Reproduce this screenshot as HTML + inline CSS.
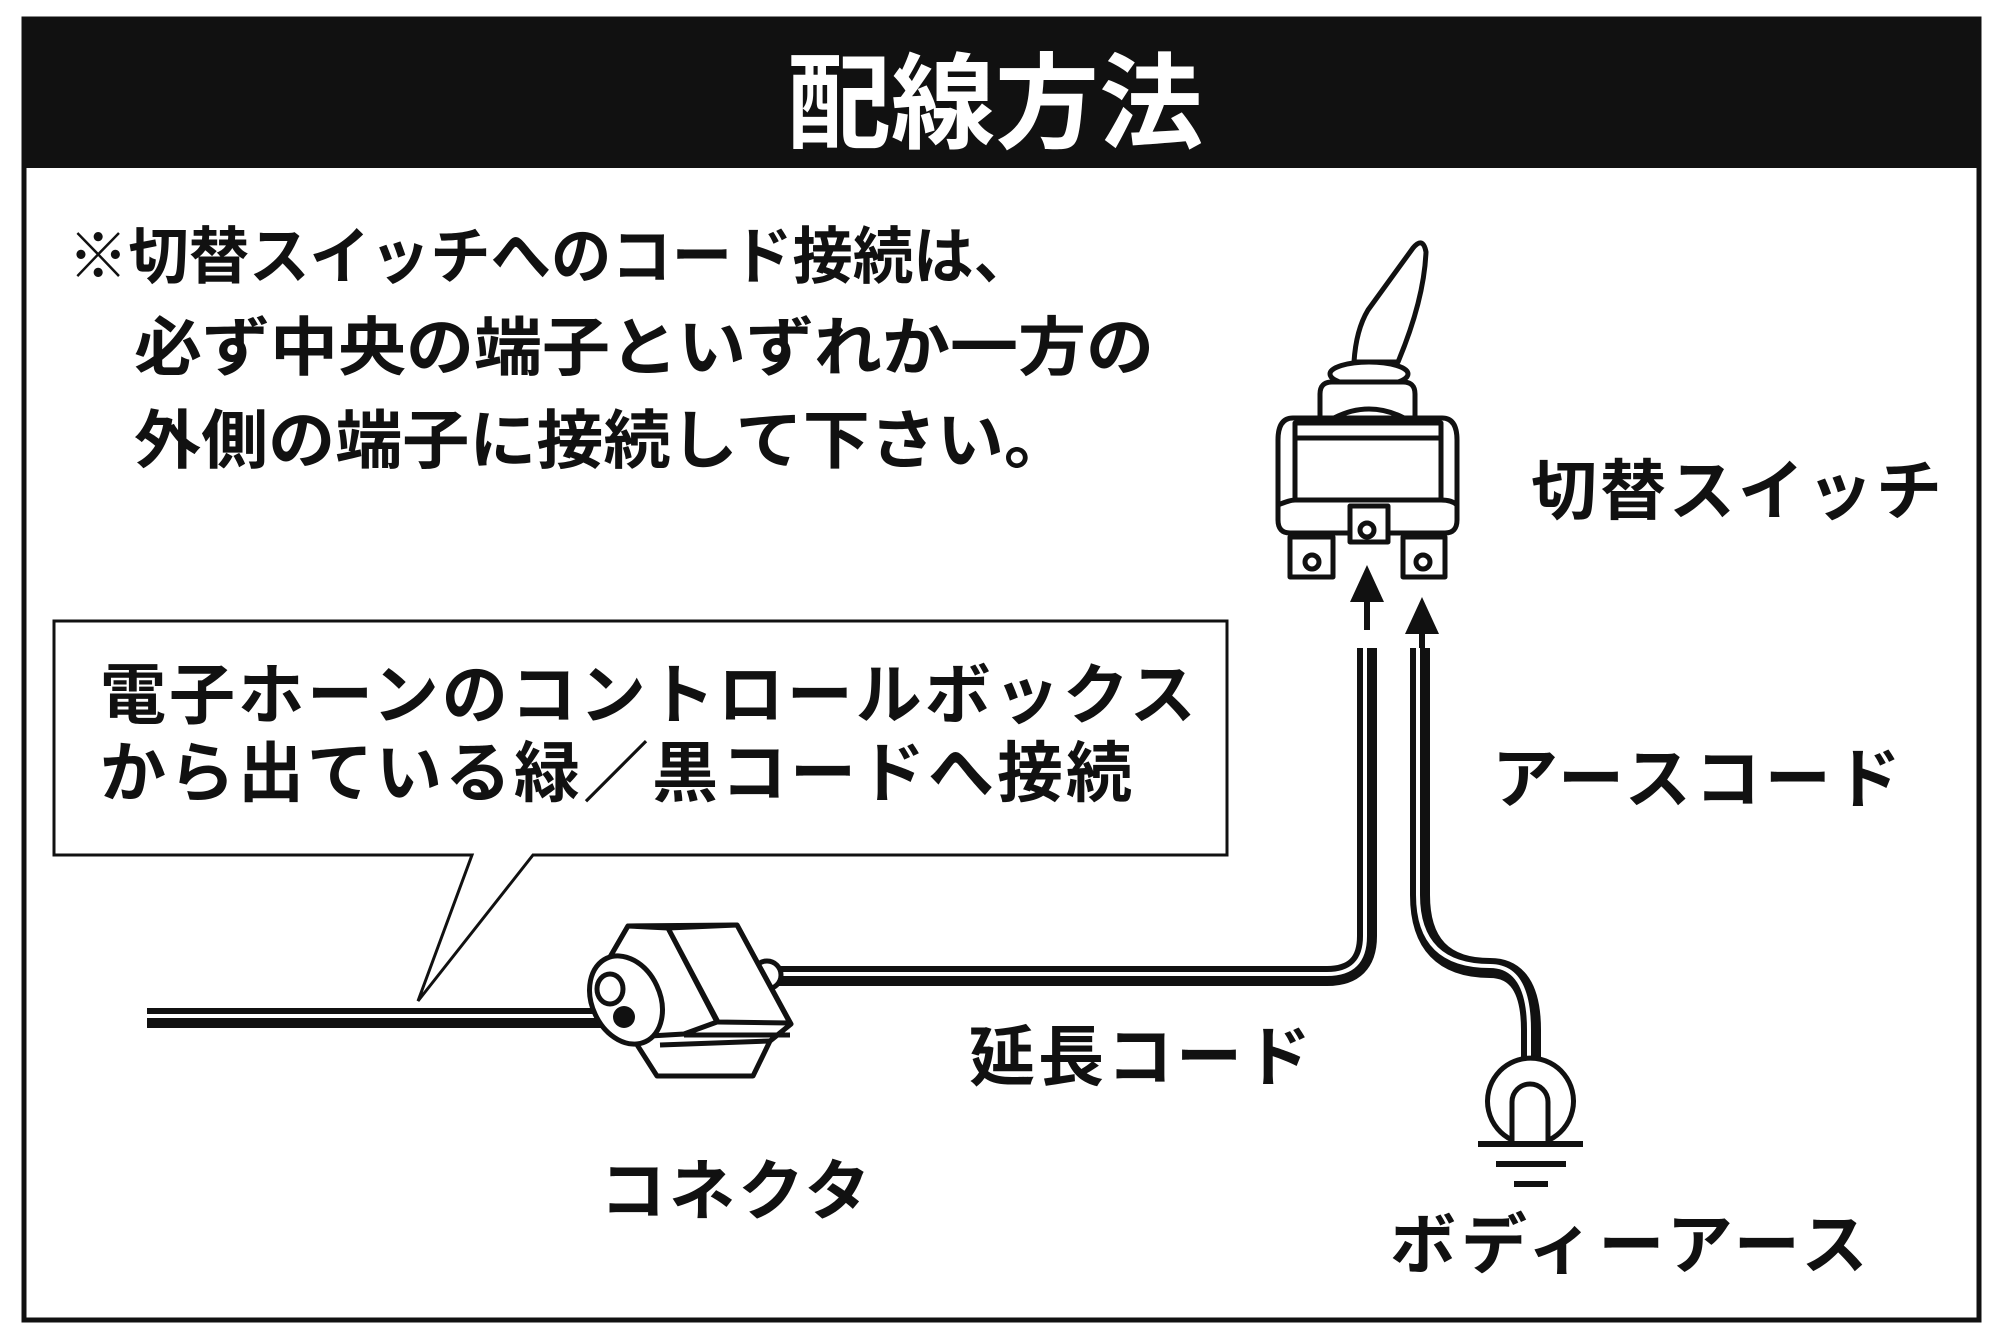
<!DOCTYPE html>
<html><head><meta charset="utf-8"><style>
html,body{margin:0;padding:0;background:#fff}
svg{display:block}
text{font-family:"Liberation Sans","Noto Sans CJK JP",sans-serif;font-weight:bold;fill:#111}
</style></head><body>
<svg width="2000" height="1341" viewBox="0 0 2000 1341" xmlns="http://www.w3.org/2000/svg">
<rect x="0" y="0" width="2000" height="1341" fill="#fff"/>
<rect x="23" y="18" width="1957" height="150" fill="#111"/>
<rect x="24" y="19" width="1955" height="1301" fill="none" stroke="#111" stroke-width="5"/>
<text x="995" y="140" font-size="104" text-anchor="middle" style="fill:#fff">配線方法</text>

<text x="68" y="278" font-size="62" textLength="966" lengthAdjust="spacingAndGlyphs">※切替スイッチへのコード接続は、</text>
<text x="134" y="370" font-size="64" textLength="1020" lengthAdjust="spacingAndGlyphs">必ず中央の端子といずれか一方の</text>
<text x="134" y="463" font-size="64" textLength="937" lengthAdjust="spacingAndGlyphs">外側の端子に接続して下さい。</text>

<text x="1531" y="514" font-size="66" letter-spacing="3">切替スイッチ</text>
<text x="1492" y="802" font-size="66" letter-spacing="4">アースコード</text>
<text x="969" y="1080" font-size="66" letter-spacing="3">延長コード</text>
<text x="600" y="1214" font-size="66" letter-spacing="3">コネクタ</text>
<text x="1390" y="1268" font-size="66" letter-spacing="5">ボディーアース</text>

<!-- callout -->
<path d="M54 621 H1227 V855 H533 L418 1001 L472 855 H54 Z" fill="#fff" stroke="#111" stroke-width="3"/>
<g letter-spacing="3">
<text x="100" y="718" font-size="66">電子ホーンのコントロールボックス</text>
<text x="100" y="796" font-size="66">から出ている緑／黒コードへ接続</text>
</g>

<!-- wires -->
<g fill="none" stroke-linecap="butt">
<path d="M147 1018 H625" stroke="#111" stroke-width="20"/>
<path d="M147 1016 H625" stroke="#fff" stroke-width="4"/>
<path d="M770 976 H1327 Q1367 976 1367 936 V648" stroke="#111" stroke-width="20"/>
<path d="M770 974 H1327 Q1365 974 1365 936 V648" stroke="#fff" stroke-width="4"/>
<path d="M1420 648 V895 Q1420 968 1490 968 Q1531 968 1531 1030 V1070" stroke="#111" stroke-width="20"/>
<path d="M1418 648 V895 Q1418 966 1490 966 Q1529 966 1529 1030 V1070" stroke="#fff" stroke-width="4"/>
</g>

<!-- arrows -->
<path d="M1367 565 L1350 602 H1364 V630 H1370 V602 H1384 Z" fill="#111"/>
<path d="M1422 597 L1405 634 H1419 V648 H1425 V634 H1439 Z" fill="#111"/>

<!-- ground -->
<g stroke="#111" stroke-width="5" fill="#fff">
<path d="M1512 1140 A43 43 0 1 1 1549 1140" />
<path d="M1512 1143 V1102 A18 18 0 0 1 1548 1102 V1143"/>
</g>
<rect x="1478" y="1141" width="105" height="6" fill="#111"/>
<rect x="1496" y="1161" width="70" height="6" fill="#111"/>
<rect x="1514" y="1181" width="34" height="6" fill="#111"/>

<!-- switch -->
<g stroke="#111" stroke-width="5" fill="#fff" stroke-linejoin="round">
<path d="M1354 362 Q1356 330 1368 310 L1413 248 Q1423 236 1426 252 Q1424 300 1398 362 Z"/>
<ellipse cx="1369" cy="374" rx="39" ry="12"/>
<path d="M1320 418 V394 Q1320 382 1332 382 H1403 Q1415 382 1415 394 V418"/>
<path d="M1334 418 Q1369 400 1404 418" fill="none"/>
<path d="M1293 418 H1442 Q1457 418 1457 440 V520 Q1457 533 1445 533 H1290 Q1278 533 1278 520 V440 Q1278 418 1293 418 Z"/>
<rect x="1295" y="423" width="146" height="77"/>
<line x1="1295" y1="438" x2="1441" y2="438"/>
<path d="M1278 505 Q1290 500 1295 500 M1441 500 Q1452 500 1457 505" fill="none"/>
<rect x="1350" y="506" width="38" height="36"/>
<circle cx="1367" cy="530" r="7"/>
<rect x="1290" y="537" width="43" height="40"/>
<circle cx="1312" cy="562" r="7"/>
<rect x="1403" y="537" width="42" height="40"/>
<circle cx="1423" cy="562" r="7"/>
</g>

<!-- connector -->
<g stroke="#111" stroke-width="5" fill="#fff" stroke-linejoin="round">
<circle cx="767" cy="975" r="14"/>
<polygon points="628,926 737,925 791,1024 770,1041 753,1076 657,1076 634,1040 606,964"/>
<polygon points="628,926 668,928 717,1022 684,1034 650,1036 606,964"/>
<polygon points="668,928 737,925 790,1023 718,1022"/>
<line x1="684" y1="1035" x2="790" y2="1035"/>
<line x1="660" y1="1045" x2="770" y2="1041"/>
<ellipse cx="626" cy="1000" rx="34" ry="46" transform="rotate(-25 626 1000)"/>
<ellipse cx="610" cy="989" rx="13" ry="15"/>
</g>
<circle cx="624" cy="1017" r="11" fill="#111"/>
</svg>
</body></html>
